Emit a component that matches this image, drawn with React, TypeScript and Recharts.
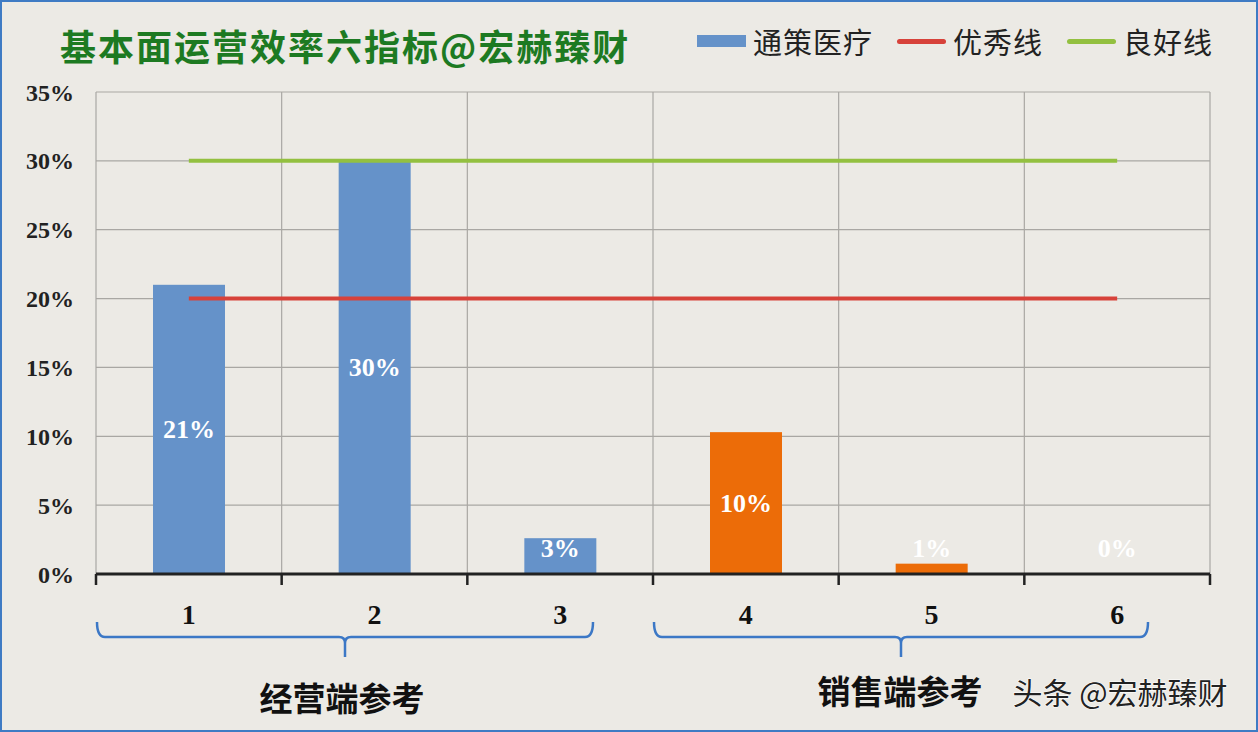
import React from 'react';
import {
  ComposedChart, Bar, Line, XAxis, YAxis, CartesianGrid, Legend, Cell,
} from 'recharts';

const categories = ['1', '2', '3', '4', '5', '6'];
const tongceValues = [21, 30, 2.6, 10.3, 0.75, 0];
const excellentLine = [20, 20, 20, 20, 20, 20];
const goodLine = [30, 30, 30, 30, 30, 30];
const barColors = ['#6592C9', '#6592C9', '#6592C9', '#EC6C08', '#EC6C08', '#EC6C08'];
const yTicks = [0, 5, 10, 15, 20, 25, 30, 35];
const groupLabels = ['经营端参考', '销售端参考'];

const BLUE = '#6592C9';
const RED = '#D7423A';
const GREEN = '#93C040';
const BG = '#ECEAE5';
const SERIF = '"Liberation Serif", "DejaVu Serif", serif';
const CJK = '"Noto Sans CJK SC", "Noto Sans", sans-serif';

const data = categories.map((c, i) => ({
  cat: c,
  value: tongceValues[i],
  excellent: excellentLine[i],
  good: goodLine[i],
}));

const legendItems = [
  { name: '通策医疗', color: BLUE, kind: 'rect' },
  { name: '优秀线', color: RED, kind: 'line' },
  { name: '良好线', color: GREEN, kind: 'line' },
];

const LegendContent = () => (
  <div style={{ display: 'flex', alignItems: 'center', fontFamily: CJK, fontSize: 29, color: '#222', letterSpacing: 1 }}>
    {legendItems.map((it, i) => (
      <div key={it.name} style={{ display: 'flex', alignItems: 'center', marginLeft: i === 0 ? 0 : 24 }}>
        <div
          style={{
            width: 49,
            height: it.kind === 'rect' ? 12 : 5,
            background: it.color,
            borderRadius: it.kind === 'rect' ? 0 : 3,
            marginRight: 7,
          }}
        />
        <span>{it.name}</span>
      </div>
    ))}
  </div>
);

// bar rectangle plus its centred value label (small bars keep the label above the base)
const BarWithLabel = (props: any) => {
  const { x, y, width, height, fill, value, payload } = props;
  const v = payload?.value ?? (Array.isArray(value) ? value[1] : value);
  const h = Math.max(0, height || 0);
  const base = y + h;
  const cy = Math.min(y + h / 2, base - 26);
  return (
    <g>
      {h > 0 && <rect x={x} y={y} width={width} height={h} fill={fill} />}
      <text
        x={x + width / 2}
        y={cy}
        textAnchor="middle"
        dominantBaseline="central"
        fill="#fff"
        fontWeight="bold"
        fontSize={26}
        fontFamily={SERIF}
      >
        {Math.round(v)}%
      </text>
    </g>
  );
};

const XTick = (props: any) => {
  const { x, y, payload, index } = props;
  const half = payload.offset || 92.8;
  const axisY = y - 8;
  return (
    <g>
      <line x1={x - half} y1={axisY} x2={x - half} y2={axisY + 11} stroke="#222" strokeWidth={2.5} />
      {index === categories.length - 1 && (
        <line x1={x + half} y1={axisY} x2={x + half} y2={axisY + 11} stroke="#222" strokeWidth={2.5} />
      )}
      <text
        x={x}
        y={axisY + 40}
        textAnchor="middle"
        dominantBaseline="central"
        fontFamily={SERIF}
        fontWeight="bold"
        fontSize={28}
        fill="#111"
      >
        {payload.value}
      </text>
    </g>
  );
};

const verticalLines = ({ offset }: any) =>
  categories.concat(['end']).map((_, i) => offset.left + (offset.width * i) / categories.length);

const Brace = ({ x1, x2, y }: { x1: number; x2: number; y: number }) => {
  const mid = (x1 + x2) / 2;
  const b = y + 15;
  return (
    <path
      d={`M${x1},${y} Q${x1},${b} ${x1 + 8},${b} L${mid - 6},${b} Q${mid},${b} ${mid},${b + 6} L${mid},${b + 20} M${mid},${b + 6} Q${mid},${b} ${mid + 6},${b} L${x2 - 8},${b} Q${x2},${b} ${x2},${y}`}
      fill="none"
      stroke="#3C78C6"
      strokeWidth={2.5}
    />
  );
};

export default function App() {
  return (
    <div style={{ position: 'absolute', left: 0, top: 0, width: 1258, height: 732, background: BG, boxSizing: 'border-box', border: '2px solid #3F7BC4' }}>
      <div
        style={{
          position: 'absolute',
          left: 58,
          top: 17,
          fontFamily: CJK,
          fontWeight: 700,
          fontSize: 36,
          color: '#1D7A22',
          letterSpacing: 2,
        }}
      >
        基本面运营效率六指标@宏赫臻财
      </div>
      <div style={{ position: 'absolute', left: -2, top: -2 }}>
        <ComposedChart
          width={1258}
          height={732}
          data={data}
          margin={{ top: 92, right: 48, left: 0, bottom: 118 }}
        >
          <CartesianGrid stroke="#A9A7A3" strokeWidth={1.2} verticalCoordinatesGenerator={verticalLines} />
          <XAxis
            dataKey="cat"
            height={40}
            tickSize={6}
            tickMargin={2}
            tickLine={false}
            axisLine={{ stroke: '#222', strokeWidth: 3 }}
            tick={<XTick />}
            interval={0}
          />
          <YAxis
            width={96}
            domain={[0, 35]}
            ticks={yTicks}
            interval={0}
            axisLine={false}
            tickLine={false}
            tickSize={6}
            tickMargin={16}
            tickFormatter={(v: number) => `${v}%`}
            tick={{ fill: '#222', fontSize: 24, fontFamily: SERIF, fontWeight: 600 }}
          />
          <Legend
            layout="horizontal"
            verticalAlign="middle"
            align="center"
            content={<LegendContent />}
            wrapperStyle={{ position: 'absolute', top: 20, left: 697, width: 'auto', height: 'auto' }}
          />
          <Bar dataKey="value" name="通策医疗" barSize={72} shape={<BarWithLabel />} isAnimationActive={false}>
            {data.map((_, i) => (
              <Cell key={i} fill={barColors[i]} />
            ))}
          </Bar>
          <Line
            dataKey="excellent"
            name="优秀线"
            stroke={RED}
            strokeWidth={4}
            dot={false}
            activeDot={false}
            isAnimationActive={false}
          />
          <Line
            dataKey="good"
            name="良好线"
            stroke={GREEN}
            strokeWidth={4}
            dot={false}
            activeDot={false}
            isAnimationActive={false}
          />
        </ComposedChart>
      </div>
      <svg width={1258} height={732} style={{ position: 'absolute', left: -2, top: -2, pointerEvents: 'none' }}>
        <Brace x1={97} x2={593} y={622} />
        <Brace x1={654} x2={1148} y={622} />
        <text x={342} y={697} textAnchor="middle" dominantBaseline="central" fontFamily={CJK} fontWeight={700} fontSize={33} fill="#111">
          {groupLabels[0]}
        </text>
        <text x={900} y={690} textAnchor="middle" dominantBaseline="central" fontFamily={CJK} fontWeight={700} fontSize={33} fill="#111">
          {groupLabels[1]}
        </text>
        <text
          x={1120}
          y={691}
          textAnchor="middle"
          dominantBaseline="central"
          fontFamily={CJK}
          fontSize={30}
          fill="#222"
          stroke="#fff"
          strokeWidth={1}
          paintOrder="stroke"
        >
          头条 @宏赫臻财
        </text>
      </svg>
    </div>
  );
}
